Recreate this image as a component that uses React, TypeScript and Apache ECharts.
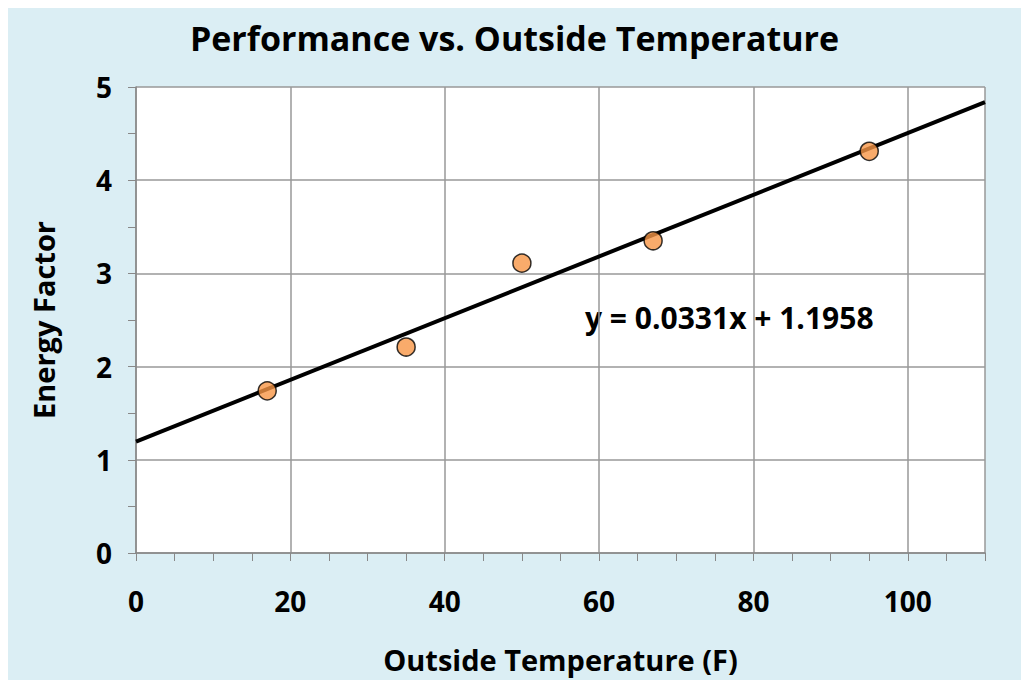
import React, { useRef, useEffect } from 'react';
import * as echarts from 'echarts';

const temps = [17, 35, 50, 67, 95];
const factors = [1.74, 2.21, 3.11, 3.35, 4.31];
const slope = 0.0331;
const intercept = 1.1958;
const xRange = [0, 110];

const FONT = '"Open Sans", "Liberation Sans", sans-serif';

const App: React.FC = () => {
  const ref = useRef<HTMLDivElement>(null);

  useEffect(() => {
    if (!ref.current) return;
    const chart = echarts.init(ref.current, undefined, { renderer: 'svg' });
    chart.setOption({
      animation: false,
      backgroundColor: '#dbeef4',
      title: {
        text: 'Performance vs. Outside Temperature',
        left: 'center',
        top: 16,
        textStyle: { fontFamily: FONT, fontSize: 34, fontWeight: 'bold', color: '#000', letterSpacing: 0.5 }
      },
      grid: { left: 136, right: 44, top: 87, bottom: 135, show: true, backgroundColor: '#fff', borderWidth: 0 },
      xAxis: {
        type: 'value',
        min: 0,
        max: 110,
        interval: 20,
        name: 'Outside Temperature (F)',
        nameLocation: 'middle',
        nameGap: 92,
        nameTextStyle: { fontFamily: FONT, fontSize: 29, fontWeight: 'bold', color: '#000' },
        axisLine: { lineStyle: { color: '#888', width: 1.5 } },
        axisTick: { show: true, length: 8, lineStyle: { color: '#888' } },
        minorTick: { show: true, splitNumber: 4, length: 8, lineStyle: { color: '#888' } },
        axisLabel: { fontFamily: FONT, fontSize: 28, fontWeight: 'bold', color: '#000', margin: 34, showMaxLabel: false },
        splitLine: { show: true, lineStyle: { color: '#999', width: 1.5 } }
      },
      yAxis: {
        type: 'value',
        min: 0,
        max: 5,
        interval: 1,
        name: 'Energy Factor',
        nameLocation: 'middle',
        nameGap: 78,
        nameTextStyle: { fontFamily: FONT, fontSize: 29, fontWeight: 'bold', color: '#000' },
        axisLine: { show: true, lineStyle: { color: '#888', width: 1.5 } },
        axisTick: { show: true, length: 8, lineStyle: { color: '#888' } },
        minorTick: { show: true, splitNumber: 2, length: 8, lineStyle: { color: '#888' } },
        axisLabel: { fontFamily: FONT, fontSize: 28, fontWeight: 'bold', color: '#000', margin: 24 },
        splitLine: { show: true, lineStyle: { color: '#999', width: 1.5 } }
      },
      series: [
        {
          type: 'line',
          data: xRange.map(x => [x, intercept + slope * x]),
          symbol: 'none',
          lineStyle: { color: '#000', width: 4 },
          z: 2
        },
        {
          type: 'scatter',
          data: temps.map((t, i) => [t, factors[i]]),
          symbolSize: 18,
          itemStyle: { color: '#f79646', borderColor: '#000', borderWidth: 1.5 },
          z: 3
        }
      ],
      graphic: [
        {
          type: 'text',
          left: 585,
          top: 302,
          style: {
            text: `y = ${slope}x + ${intercept}`,
            fontFamily: FONT,
            fontSize: 30,
            fontWeight: 'bold',
            fill: '#000'
          }
        }
      ]
    });
    return () => chart.dispose();
  }, []);

  return <div ref={ref} style={{ width: 1029, height: 688, margin: -8 }} />;
};

export default App;
